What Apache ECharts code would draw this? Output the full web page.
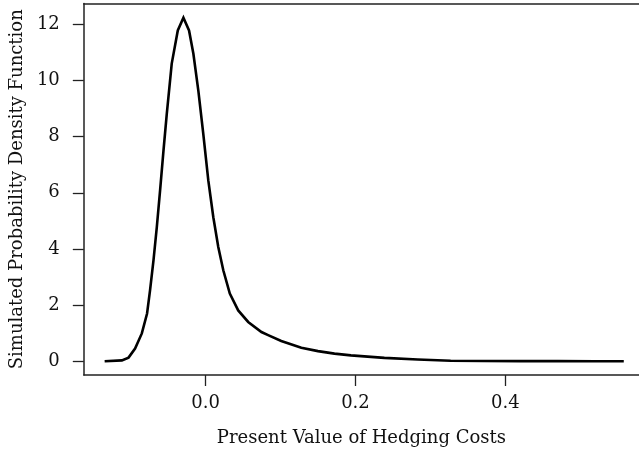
<!DOCTYPE html>
<html>
<head>
<meta charset="utf-8">
<script src="https://cdn.jsdelivr.net/npm/echarts@6/dist/echarts.min.js"></script>
<style>
  html, body { margin: 0; padding: 0; background: #fff; }
  #chart { width: 639px; height: 453px; }
</style>
</head>
<body>
<div id="chart"></div>
<script>
// Simulated density of the present value of hedging costs
const costValues = [
  -0.1346, -0.1116, -0.1027, -0.094, -0.085, -0.078, -0.074, -0.0694, -0.065,
  -0.0606, -0.0561, -0.0517, -0.0451, -0.037, -0.0295, -0.022, -0.0162, -0.0096,
  -0.003, 0.0037, 0.0104, 0.017, 0.0237, 0.0324, 0.0436, 0.0569, 0.0746, 0.0835,
  0.101, 0.1278, 0.150, 0.172, 0.194, 0.2386, 0.283, 0.327, 0.37, 0.42, 0.47, 0.52, 0.558
];
const densityValues = [
  0.0, 0.03, 0.13, 0.45, 0.99, 1.7, 2.53, 3.6, 4.78,
  6.09, 7.5, 8.81, 10.6, 11.78, 12.23, 11.78, 10.95, 9.64,
  8.1, 6.44, 5.13, 4.07, 3.24, 2.41, 1.81, 1.40, 1.04, 0.93,
  0.72, 0.48, 0.36, 0.27, 0.21, 0.12, 0.06, 0.02, 0.01, 0.005, 0.003, 0.001, 0.0
];
const xTicks = [0.0, 0.2, 0.4];
const yTicks = [0, 2, 4, 6, 8, 10, 12];

const points = costValues.map((v, i) => [v, densityValues[i]]);
const font = '"DejaVu Serif", "Liberation Serif", serif';
const frame = { color: '#222', width: 1.5 };

const chart = echarts.init(document.getElementById('chart'), null, { renderer: 'canvas' });
chart.setOption({
  animation: false,
  backgroundColor: '#ffffff',
  grid: { left: 82, top: 3.5, right: 0, height: 371.5, show: false },
  xAxis: [{
    type: 'value',
    min: -0.1624, max: 0.5783,
    position: 'bottom',
    splitLine: { show: false },
    axisLine: { show: true, onZero: false, lineStyle: frame },
    axisTick: {
      show: true, inside: false, length: 11,
      customValues: xTicks,
      lineStyle: { color: '#222', width: 1.3 }
    },
    axisLabel: {
      customValues: xTicks,
      margin: 19,
      color: '#111', fontFamily: font, fontSize: 18,
      formatter: v => v.toFixed(1)
    },
    name: 'Present Value of Hedging Costs',
    nameLocation: 'middle',
    nameGap: 54,
    nameTextStyle: { color: '#111', fontFamily: font, fontSize: 18 }
  }, {
    // top edge of the frame
    type: 'value',
    min: -0.1624, max: 0.5783,
    position: 'top',
    splitLine: { show: false },
    axisLine: { show: true, onZero: false, lineStyle: frame },
    axisTick: { show: false },
    axisLabel: { show: false }
  }],
  yAxis: {
    type: 'value',
    min: -0.49, max: 12.74,
    position: 'left',
    splitLine: { show: false },
    axisLine: { show: true, onZero: false, lineStyle: frame },
    axisTick: {
      show: true, inside: false, length: 11,
      customValues: yTicks,
      lineStyle: { color: '#222', width: 1.3 }
    },
    axisLabel: {
      customValues: yTicks,
      margin: 24,
      color: '#111', fontFamily: font, fontSize: 18,
      formatter: v => String(v)
    },
    name: 'Simulated Probability Density Function',
    nameLocation: 'middle',
    nameRotate: 90,
    nameGap: 56,
    nameTextStyle: { color: '#111', fontFamily: font, fontSize: 18 }
  },
  series: [{
    type: 'line',
    xAxisIndex: 0,
    data: points,
    showSymbol: false,
    smooth: false,
    lineStyle: { color: '#000', width: 2.6, join: 'miter' },
    clip: false
  }]
});
</script>
</body>
</html>
